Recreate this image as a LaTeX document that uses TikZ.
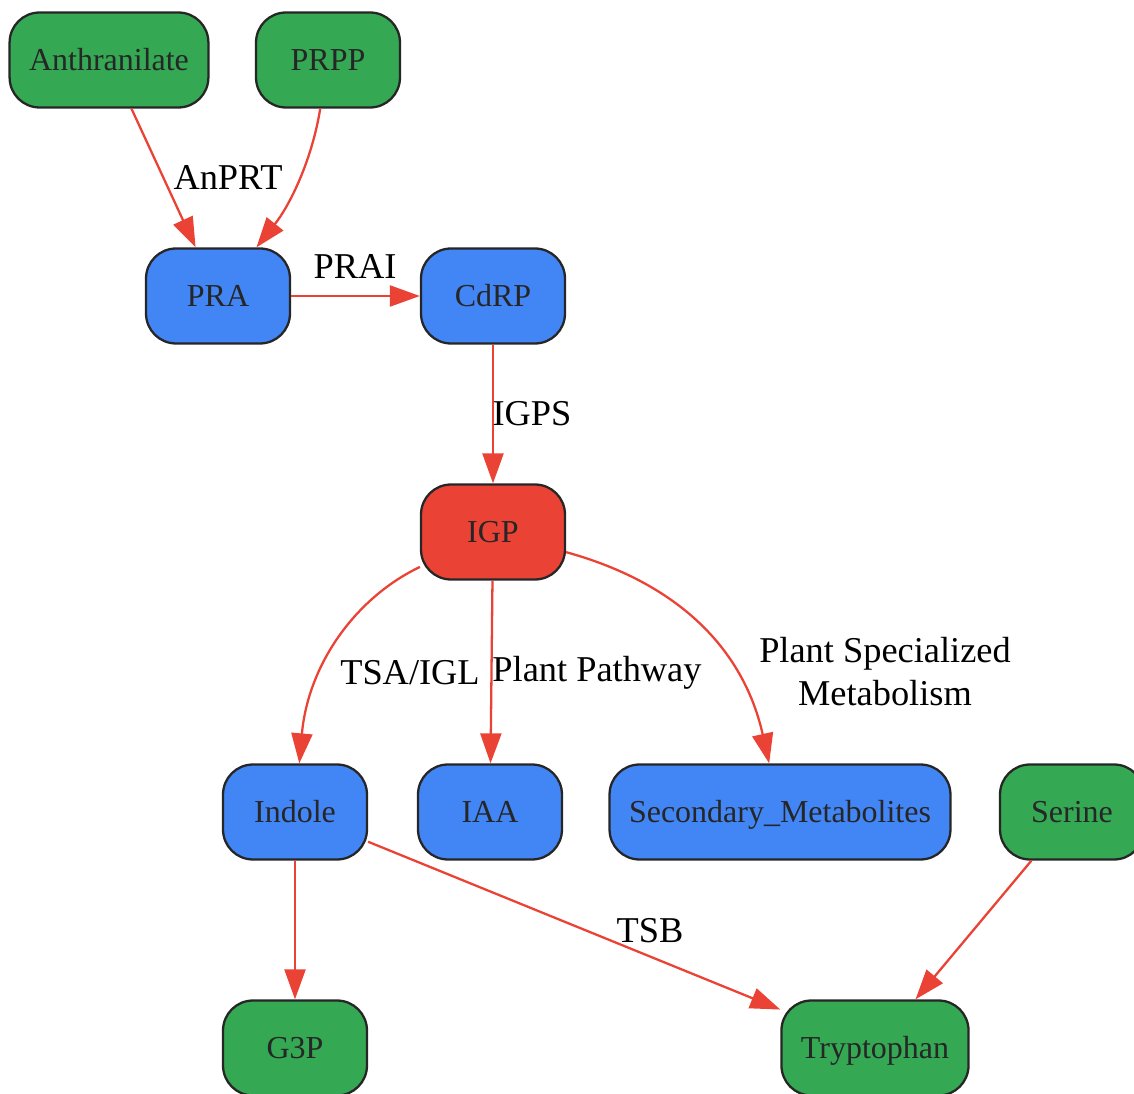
\documentclass[tikz,border=0pt]{standalone}
\usepackage{fontspec}
\setmainfont{Liberation Serif}
\usetikzlibrary{arrows.meta}
\begin{document}
\begin{tikzpicture}[x=0.02cm,y=-0.02cm,
	>={Triangle[length=0.6cm,width=0.42cm]},
	mol/.style={draw=black!85,line width=1.3pt,rounded corners=0.6cm,
		minimum width=2.88cm,minimum height=1.9cm,inner xsep=0.39cm,
		text height=14pt,text depth=2pt,
		text=black!85,font=\fontsize{18.2}{21}\selectfont},
	source/.style={mol,fill=gruen},
	inter/.style={mol,fill=blau},
	hub/.style={mol,fill=rot},
	pfeil/.style={->,draw=rot,line width=1.3pt},
	enzyme/.style={inner sep=0pt,align=center,
		font=\fontsize{20.7}{24.5}\selectfont}]
\definecolor{gruen}{HTML}{34A853}
\definecolor{blau}{HTML}{4285F4}
\definecolor{rot}{HTML}{EA4335}

\clip (0,0) rectangle (1134,1094);

% Knoten
\node[source] (anthranilate) at (109,60) {Anthranilate};
\node[source] (prpp) at (328,60) {PRPP};
\node[inter] (pra) at (218,296) {PRA};
\node[inter] (cdrp) at (493,296) {CdRP};
\node[hub] (igp) at (493,532) {IGP};
\node[inter] (indole) at (295,812) {Indole};
\node[inter] (iaa) at (490,812) {IAA};
\node[inter] (secondary) at (780,812) {Secondary\_Metabolites};
\node[source] (serine) at (1072,812) {Serine};
\node[source] (g3p) at (295,1048) {G3P};
\node[source] (tryptophan) at (875,1048) {Tryptophan};

% Pfeile
\draw[pfeil] (anthranilate) -- (pra);
\draw[pfeil] (prpp) .. controls (312,160) and (290,205) .. (pra);
\draw[pfeil] (pra) -- (cdrp);
\draw[pfeil] (cdrp) -- (igp);
\draw[pfeil] (igp) .. controls (355,598) and (308,665) .. (indole);
\draw[pfeil] (igp) -- (iaa);
\draw[pfeil] (igp) .. controls (685,585) and (745,655) .. (secondary);
\draw[pfeil] (indole) -- (g3p);
\draw[pfeil] (indole) -- (tryptophan);
\draw[pfeil] (serine) -- (tryptophan);

% Beschriftungen
\node[enzyme] (anprt) at (228,178) {AnPRT};
\node[enzyme] (prai) at (355,267) {PRAI};
\node[enzyme] (igps) at (532,414) {IGPS};
\node[enzyme] (tsaigl) at (410,673) {TSA/IGL};
\node[enzyme] (plantpw) at (597,673) {Plant Pathway};
\node[enzyme] (plantsm) at (885,672) {Plant Specialized\\Metabolism};
\node[enzyme] (tsb) at (650,931) {TSB};

\end{tikzpicture}
\end{document}
